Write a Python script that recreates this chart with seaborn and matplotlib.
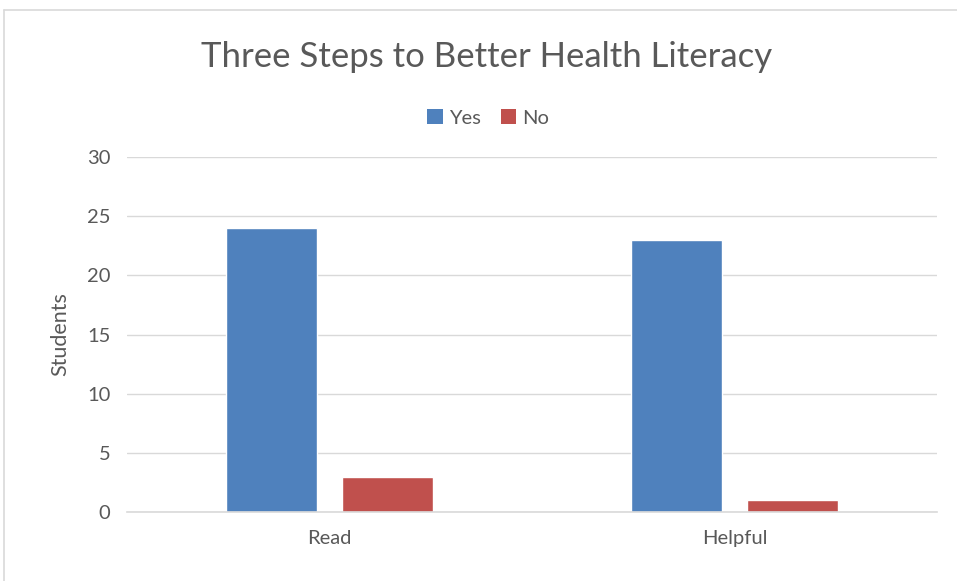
import matplotlib
matplotlib.use("Agg")
import matplotlib.pyplot as plt
from matplotlib.lines import Line2D
from matplotlib.patches import Patch
import seaborn as sns
import pandas as pd

categories = ["Read", "Helpful"]
yes_values = [24, 23]
no_values = [3, 1]
series_names = ["Yes", "No"]
y_ticks = [0, 5, 10, 15, 20, 25, 30]

df = pd.DataFrame({
    "Category": categories * 2,
    "Response": [series_names[0]] * len(categories) + [series_names[1]] * len(categories),
    "Students": yes_values + no_values,
})

sns.set_theme(style="white")
plt.rcParams["font.family"] = ["Lato", "DejaVu Sans"]

text_color = "#595959"
grid_color = "#d9d9d9"
palette = {"Yes": "#4f81bd", "No": "#c0504d"}

fig = plt.figure(figsize=(9.57, 5.81), dpi=100)
ax = fig.add_axes([127 / 957, 1 - 512 / 581, (937 - 127) / 957, (512 - 157) / 581])

sns.barplot(data=df, x="Category", y="Students", hue="Response",
            palette=palette, width=0.568, gap=0.209, ax=ax,
            saturation=1, legend=False, errorbar=None)

ax.set_ylim(0, 30)
ax.set_xlim(-0.5, 1.5)
ax.set_yticks(y_ticks)
ax.set_yticklabels([str(t) for t in y_ticks])
ax.yaxis.grid(True, color=grid_color, linewidth=1)
ax.set_axisbelow(True)
for side in ["left", "right", "top"]:
    ax.spines[side].set_visible(False)
ax.spines["bottom"].set_color(grid_color)
ax.spines["bottom"].set_linewidth(1.2)
ax.tick_params(axis="both", length=0, labelsize=14.5, colors=text_color)
ax.tick_params(axis="y", pad=12)
ax.tick_params(axis="x", pad=13)
ax.set_xlabel("")
ax.set_ylabel("Students", fontsize=15.5, color=text_color, labelpad=12)

fig.text(487 / 957, 1 - 57 / 581, "Three Steps to Better Health Literacy",
         ha="center", va="center", fontsize=25, color=text_color)

handles = [Patch(facecolor=palette[n], edgecolor="none", label=n) for n in series_names]
fig.legend(handles=handles, loc="center", bbox_to_anchor=(488 / 957, 1 - 118 / 581),
           ncol=2, frameon=False, fontsize=14.5, handlelength=0.75, handleheight=0.75,
           handletextpad=0.3, columnspacing=1.0, labelcolor=text_color)

# chart frame (top and left edges)
fig.add_artist(Line2D([4 / 957, 1], [1 - 10 / 581, 1 - 10 / 581],
                      transform=fig.transFigure, color=grid_color, linewidth=1.2))
fig.add_artist(Line2D([4 / 957, 4 / 957], [0, 1 - 10 / 581],
                      transform=fig.transFigure, color=grid_color, linewidth=1.2))

fig.savefig("out.png", dpi=100, facecolor="white")
